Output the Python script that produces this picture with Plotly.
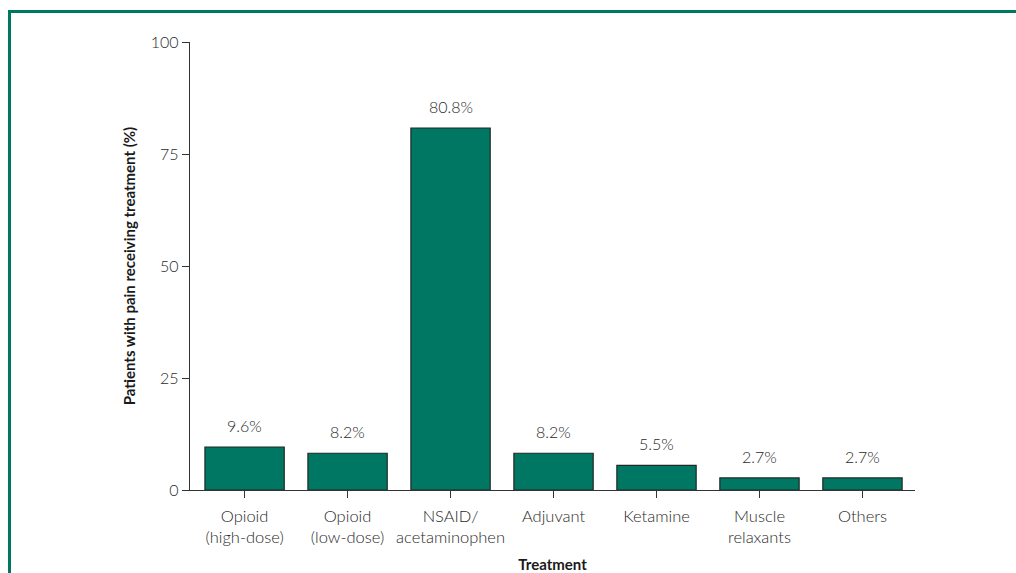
import plotly.graph_objects as go

categories = ["Opioid<br>(high-dose)", "Opioid<br>(low-dose)", "NSAID/<br>acetaminophen",
              "Adjuvant", "Ketamine", "Muscle<br>relaxants", "Others"]
values = [9.6, 8.2, 80.8, 8.2, 5.5, 2.7, 2.7]
labels = ["9.6%", "8.2%", "80.8%", "8.2%", "5.5%", "2.7%", "2.7%"]
y_ticks = [0, 25, 50, 75, 100]

GREEN = "#007762"
FONT = "Lato"
TXT = "#2a2a2a"

fig = go.Figure(go.Bar(
    x=list(range(len(categories))), y=values, width=0.77,
    marker=dict(color=GREEN, line=dict(color="#1e2a26", width=1.2)),
))

for i, (v, t) in enumerate(zip(values, labels)):
    fig.add_annotation(x=i, y=v, text=t, showarrow=False, yanchor="bottom", yshift=10,
                       font=dict(family=FONT, size=16, color=TXT, weight=300))

fig.update_layout(
    width=1016, height=573,
    margin=dict(l=190, r=101, t=42, b=83),
    plot_bgcolor="white", paper_bgcolor="white",
    showlegend=False,
    font=dict(family=FONT, size=16, color=TXT, weight=300),
    xaxis=dict(
        tickmode="array", tickvals=list(range(len(categories))), ticktext=categories,
        range=[-0.53, 6.51], showline=True, linecolor="#333", linewidth=1.3,
        ticks="outside", ticklen=7, tickcolor="#333", tickwidth=1.3,
        ticklabelstandoff=4, automargin=False,
        tickfont=dict(family=FONT, size=16.5, color=TXT, weight=300),
        showgrid=False, zeroline=False,
        title=dict(text="<b>Treatment</b>", standoff=22,
                   font=dict(family=FONT, size=15, color="#1a1a1a")),
    ),
    yaxis=dict(
        range=[0, 100], tickvals=y_ticks, showline=True, linecolor="#333", linewidth=1.3,
        ticks="outside", ticklen=7, tickcolor="#333", tickwidth=1.3,
        tickfont=dict(family=FONT, size=16, color=TXT, weight=300),
        showgrid=False, zeroline=False, automargin=False,
        title=dict(text="<b>Patients with pain receiving treatment (%)</b>", standoff=11,
                   font=dict(family=FONT, size=15, color="#1a1a1a")),
    ),
)

# Green frame (top and left edges)
fig.add_shape(type="line", xref="paper", yref="paper",
              x0=(8 - 190) / 725, x1=(1020 - 190) / 725,
              y0=(490 - 11.5) / 448, y1=(490 - 11.5) / 448,
              line=dict(color=GREEN, width=3))
fig.add_shape(type="line", xref="paper", yref="paper",
              x0=(9.5 - 190) / 725, x1=(9.5 - 190) / 725,
              y0=(490 - 10) / 448, y1=(490 - 580) / 448,
              line=dict(color=GREEN, width=3))

fig.write_html("out.html")
